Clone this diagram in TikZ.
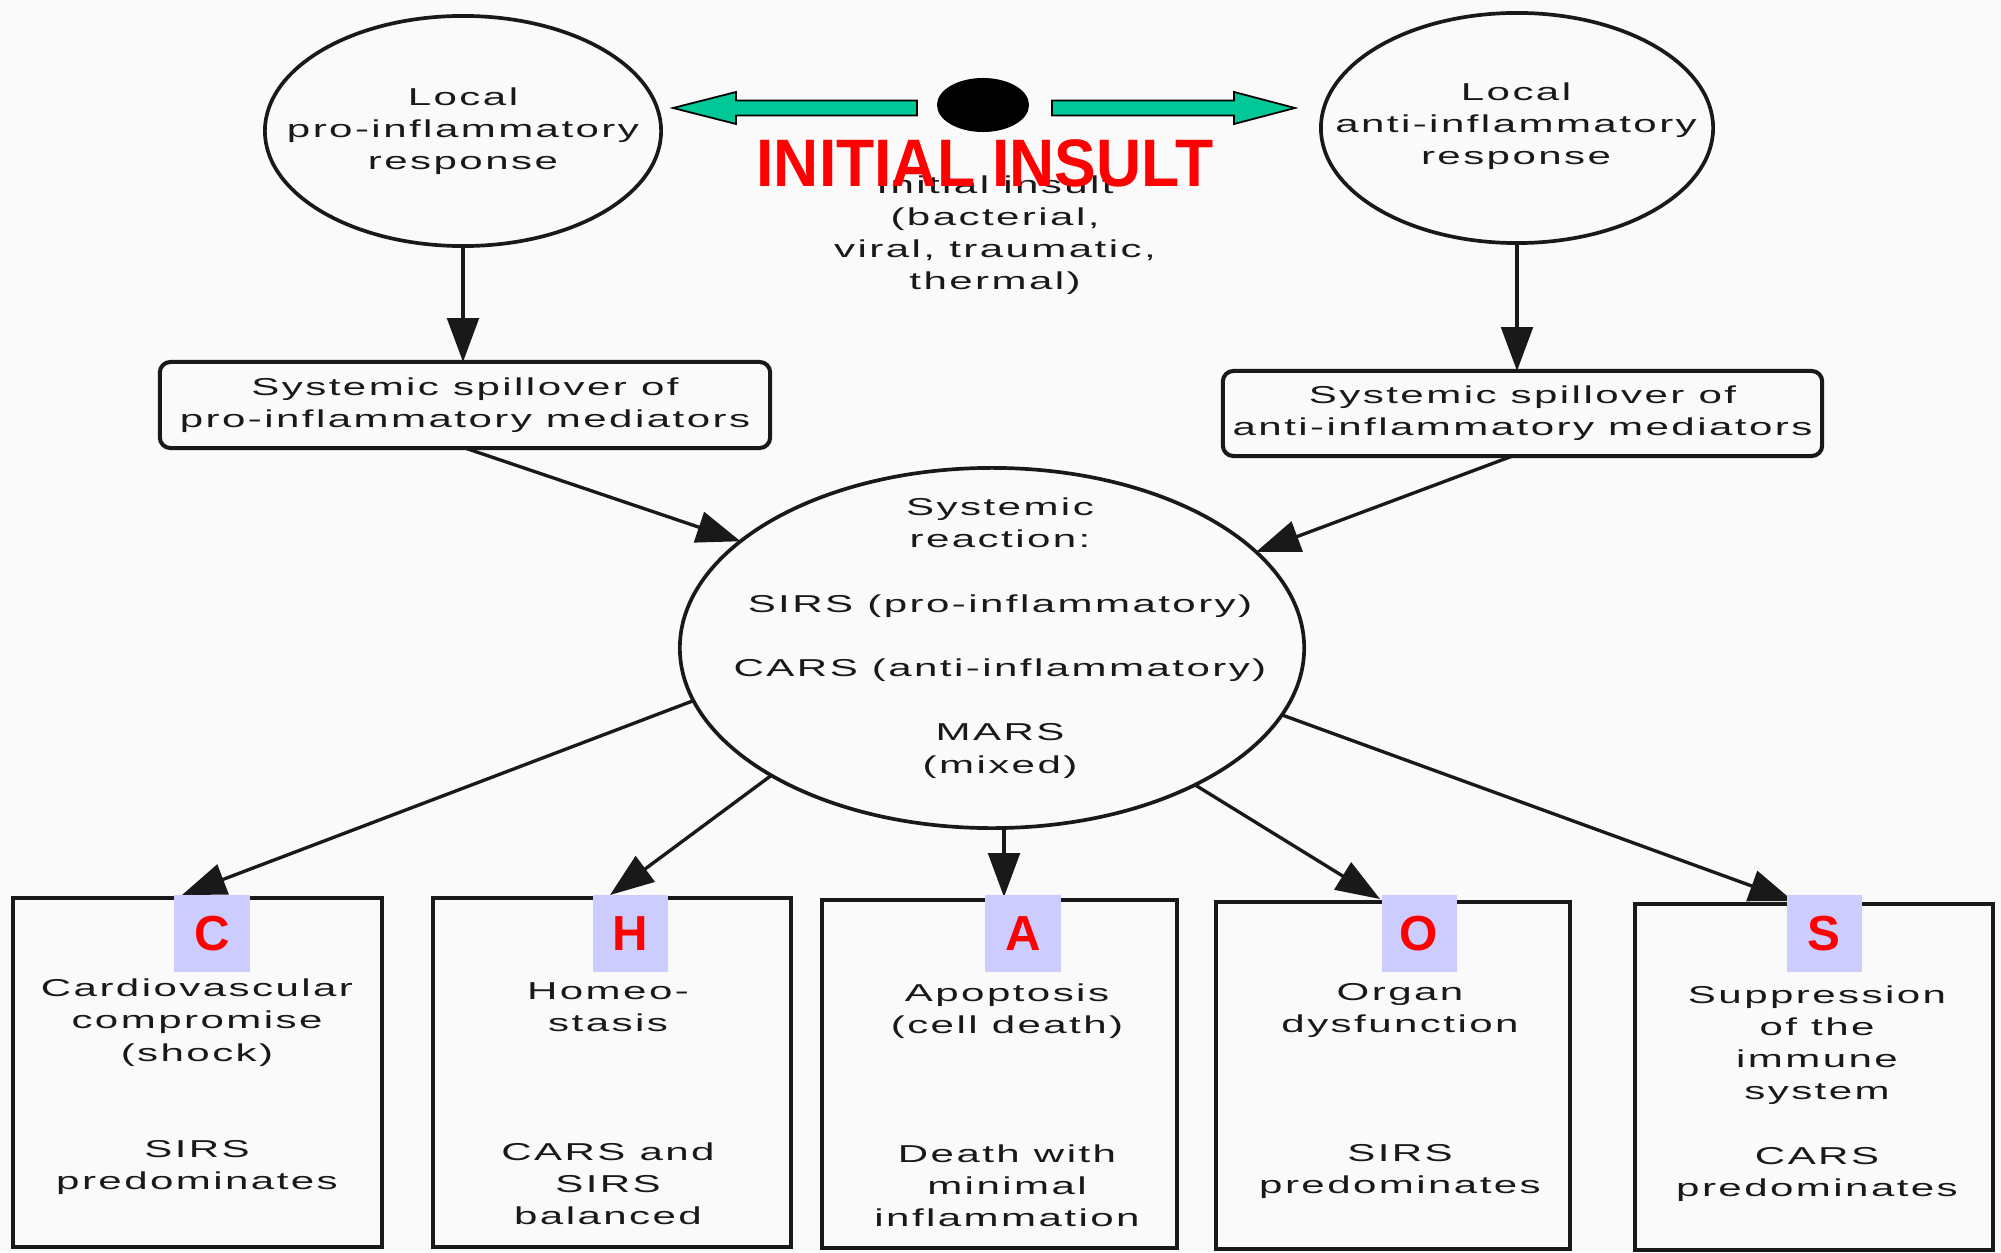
\documentclass[tikz,border=0pt]{standalone}
\usepackage{fontspec}
\setmainfont{Liberation Sans}[FakeStretch=1.72,LetterSpace=10]
\newfontfamily\insultfont{Liberation Sans}[FakeStretch=0.93]
\newfontfamily\letterfont{Liberation Sans}
\usetikzlibrary{shapes.geometric,arrows.meta}
\definecolor{bgc}{RGB}{250,250,250}
\definecolor{ink}{RGB}{25,25,25}
\definecolor{gfill}{RGB}{0,200,150}
\definecolor{lav}{RGB}{204,204,255}
\definecolor{redc}{RGB}{255,0,0}
\tikzset{
  txt/.style={font=\fontsize{6.95pt}{9.15pt}\selectfont, text=ink, align=center, inner sep=0pt},
  oval/.style={ellipse, draw=ink, line width=1.05pt, inner sep=0pt, outer sep=0pt},
  spill/.style={rectangle, rounded corners=3pt, draw=ink, line width=1.15pt, inner sep=0pt, outer sep=0pt, txt},
  outbox/.style={rectangle, draw=ink, line width=1.3pt, inner sep=0pt, outer sep=0pt},
  lab/.style={rectangle, fill=lav, minimum width=0.75cm, minimum height=0.77cm, inner sep=0pt, text=redc, font=\letterfont\bfseries\fontsize{14pt}{14pt}\selectfont},
  arr/.style={draw=ink, line width=0.95pt, -{Triangle[length=12.5pt,width=9pt]}},
  garrow/.style={fill=gfill, draw=black, line width=0.5pt}
}
\begin{document}
\begin{tikzpicture}[x=0.01cm,y=-0.01cm]
\fill[bgc] (0,0) rectangle (2001,1252);
\useasboundingbox (0,0) rectangle (2001,1252);

% top circles
\node[oval, minimum width=3.96cm, minimum height=2.30cm] (lc) at (463,131) {};
\node[txt] (lctxt) at (463,131) {Local\\pro-inflammatory\\response};
\node[oval, minimum width=3.92cm, minimum height=2.30cm] (rc) at (1517,128) {};
\node[txt] (rctxt) at (1516,126) {Local\\anti-inflammatory\\response};

% insult
\node[ellipse, fill=black, minimum width=0.92cm, minimum height=0.54cm, inner sep=0pt] (dot) at (983,105) {};
\node[txt] (insulttxt) at (995,235) {Initial insult\\(bacterial,\\viral, traumatic,\\thermal)};
\node[inner sep=0pt, text=redc, font=\insultfont\bfseries\fontsize{19.1pt}{20pt}\selectfont] (insult) at (985,163) {INITIAL INSULT};
\draw[garrow] (917,100.5) -- (736,100.5) -- (736,92) -- (673,108) -- (736,124) -- (736,115.5) -- (917,115.5) -- cycle;
\draw[garrow] (1052,100.5) -- (1234,100.5) -- (1234,92) -- (1295,108) -- (1234,124) -- (1234,115.5) -- (1052,115.5) -- cycle;

% spillover boxes
\node[spill, minimum width=6.10cm, minimum height=0.86cm] (lsp) at (465,405) {Systemic spillover of\\pro-inflammatory mediators};
\node[spill, minimum width=5.99cm, minimum height=0.85cm] (rsp) at (1522.5,413.5) {Systemic spillover of\\anti-inflammatory mediators};

% central
\node[oval, minimum width=6.24cm, minimum height=3.60cm] (sys) at (992,648) {};
\node[txt] (systxt) at (1000,638) {Systemic\\reaction:\\[9.15pt]SIRS (pro-inflammatory)\\[9.15pt]CARS (anti-inflammatory)\\[9.15pt]MARS\\(mixed)};

% bottom boxes
\node[outbox, minimum width=3.69cm, minimum height=3.49cm] (C) at (197.5,1072.5) {};
\node[outbox, minimum width=3.58cm, minimum height=3.49cm] (H) at (612,1072.5) {};
\node[outbox, minimum width=3.55cm, minimum height=3.48cm] (A) at (999.5,1074) {};
\node[outbox, minimum width=3.54cm, minimum height=3.47cm] (O) at (1393,1075.5) {};
\node[outbox, minimum width=3.58cm, minimum height=3.46cm] (S) at (1814,1077) {};

\node[txt] (Ctxt) at (197,1087) {Cardiovascular\\compromise\\(shock)\\[18.3pt]SIRS\\predominates};
\node[txt] (Htxt) at (608,1103.5) {Homeo-\\stasis\\[27.45pt]CARS and\\SIRS\\balanced};
\node[txt] (Atxt) at (1007,1105.5) {Apoptosis\\(cell death)\\[27.45pt]Death with\\minimal\\inflammation};
\node[txt] (Otxt) at (1400,1091) {Organ\\dysfunction\\[27.45pt]SIRS\\predominates};
\node[txt] (Stxt) at (1817,1093.5) {Suppression\\of the\\immune\\system\\[9.15pt]CARS\\predominates};

% arrow targets
\coordinate (tC) at (182,895);
\coordinate (tH) at (610,895);
\coordinate (tA) at (1004,897);
\coordinate (tO) at (1380,899);
\coordinate (tS) at (1793,901);

% connectors
\draw[arr] (lc.south) -- (lc.south |- lsp.north);
\draw[arr] (rc.south) -- (rc.south |- rsp.north);
\draw[arr] (lsp.south) -- (sys.157.6);
\draw[arr] ([xshift=-0.1cm]rsp.south) -- (sys.20.1);
\draw[arr] (sys.190.5) -- (tC);
\draw[arr] (sys.210.5) -- (tH);
\draw[arr] (sys.south -| tA) -- (tA);
\draw[arr] (sys.326.4) -- (tO);
\draw[arr] (sys.347.8) -- (tS);

% letter labels
\node[lab] (labC) at (212,933.5) {C};
\node[lab] (labH) at (630.5,933.5) {H};
\node[lab] (labA) at (1023,933.5) {A};
\node[lab] (labO) at (1419,933.5) {O};
\node[lab] (labS) at (1824,933.5) {S};
\end{tikzpicture}
\end{document}
